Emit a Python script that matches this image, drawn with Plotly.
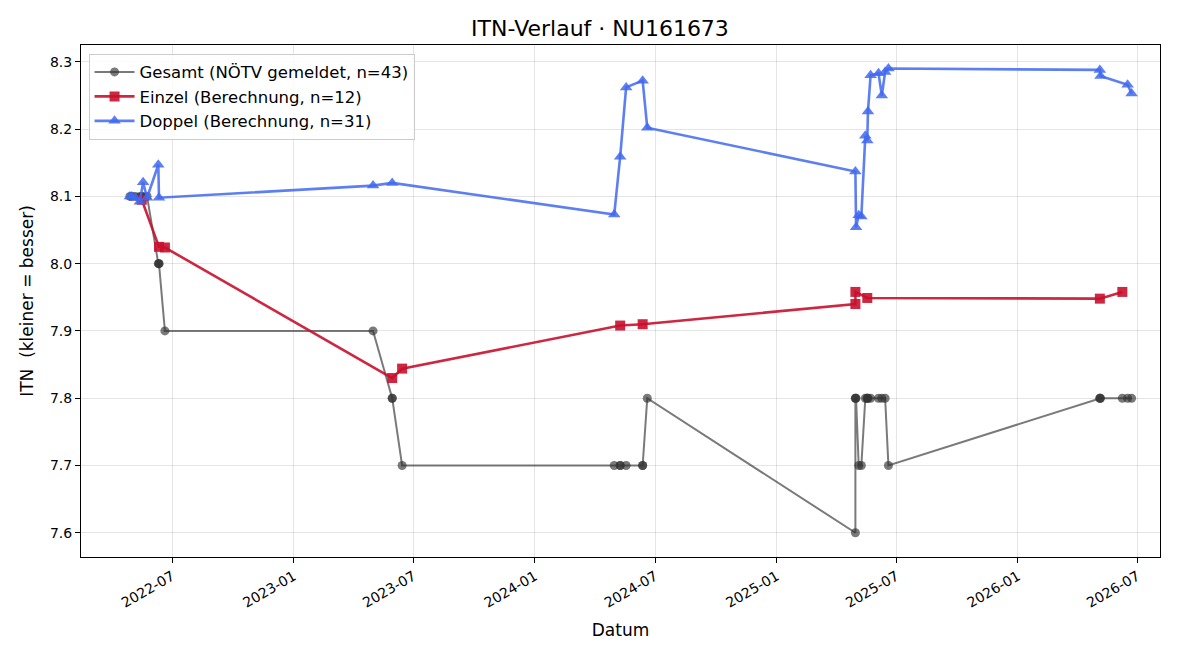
import plotly.graph_objects as go

# ---- data ----
gesamt_dates = [
    "2022-04-28", "2022-05-01", "2022-05-06", "2022-05-13", "2022-05-16", "2022-05-18",
    "2022-05-24", "2022-06-10", "2022-06-11", "2022-06-11", "2022-06-20",
    "2023-05-01", "2023-05-30", "2023-05-30", "2023-06-14",
    "2024-04-30", "2024-05-09", "2024-05-09", "2024-05-18", "2024-06-12", "2024-06-12", "2024-06-19",
    "2025-04-30", "2025-04-30", "2025-04-30", "2025-05-01", "2025-05-05", "2025-05-09",
    "2025-05-15", "2025-05-18", "2025-05-18", "2025-05-19", "2025-05-23", "2025-06-04",
    "2025-06-09", "2025-06-14", "2025-06-19",
    "2026-05-05", "2026-05-05", "2026-05-06", "2026-06-08", "2026-06-16", "2026-06-22",
]
gesamt_itn = [
    8.1, 8.1, 8.1, 8.1, 8.1, 8.1,
    8.1, 8.0, 8.0, 8.0, 7.9,
    7.9, 7.8, 7.8, 7.7,
    7.7, 7.7, 7.7, 7.7, 7.7, 7.7, 7.8,
    7.6, 7.8, 7.8, 7.8, 7.7, 7.7,
    7.8, 7.8, 7.8, 7.8, 7.8, 7.8,
    7.8, 7.8, 7.7,
    7.8, 7.8, 7.8, 7.8, 7.8, 7.8,
]

einzel_dates = [
    "2022-05-16", "2022-06-11", "2022-06-20", "2023-05-30", "2023-06-14",
    "2024-05-09", "2024-06-12", "2025-04-30", "2025-04-30", "2025-05-18",
    "2026-05-05", "2026-06-08",
]
einzel_itn = [
    8.095, 8.025, 8.024, 7.830, 7.844,
    7.908, 7.910, 7.940, 7.958, 7.949,
    7.948, 7.958,
]

doppel_dates = [
    "2022-04-28", "2022-05-01", "2022-05-06", "2022-05-13", "2022-05-18", "2022-05-24",
    "2022-06-10", "2022-06-11",
    "2023-05-01", "2023-05-30",
    "2024-04-30", "2024-05-09", "2024-05-18", "2024-06-12", "2024-06-19",
    "2025-04-30", "2025-05-01", "2025-05-05", "2025-05-09", "2025-05-15", "2025-05-18",
    "2025-05-19", "2025-05-23", "2025-06-04", "2025-06-09", "2025-06-14", "2025-06-19",
    "2026-05-05", "2026-05-06", "2026-06-16", "2026-06-22",
]
doppel_itn = [
    8.100, 8.100, 8.098, 8.092, 8.121, 8.098,
    8.147, 8.098,
    8.116, 8.120,
    8.073, 8.159, 8.262, 8.272, 8.202,
    8.137, 8.054, 8.072, 8.070, 8.190, 8.183,
    8.226, 8.280, 8.283, 8.250, 8.285, 8.290,
    8.288, 8.279, 8.266, 8.253,
]

title_text = "ITN-Verlauf · NU161673"
y_ticks = [7.6, 7.7, 7.8, 7.9, 8.0, 8.1, 8.2, 8.3]

FONT = "DejaVu Sans"

fig = go.Figure()

fig.add_trace(go.Scatter(
    x=gesamt_dates, y=gesamt_itn, mode="lines+markers",
    name=f"Gesamt (NÖTV gemeldet, n={len(gesamt_itn)})",
    line=dict(color="rgba(51,51,51,0.65)", width=2),
    marker=dict(symbol="circle", size=9, color="rgba(51,51,51,0.65)", line=dict(width=0)),
))
fig.add_trace(go.Scatter(
    x=einzel_dates, y=einzel_itn, mode="lines+markers",
    name=f"Einzel (Berechnung, n={len(einzel_itn)})",
    line=dict(color="rgba(200,16,46,0.9)", width=2.6),
    marker=dict(symbol="square", size=10, color="rgba(200,16,46,0.9)", line=dict(width=0)),
))
fig.add_trace(go.Scatter(
    x=doppel_dates, y=doppel_itn, mode="lines+markers",
    name=f"Doppel (Berechnung, n={len(doppel_itn)})",
    line=dict(color="rgba(65,105,240,0.85)", width=2.6),
    marker=dict(symbol="triangle-up", size=11, color="rgba(65,105,240,0.85)", line=dict(width=0)),
))

fig.update_layout(
    width=1200, height=660,
    margin=dict(l=81, r=40, t=45, b=103),
    paper_bgcolor="white", plot_bgcolor="white",
    font=dict(family=FONT, size=14, color="black"),
    title=dict(text=title_text, x=0.5, xanchor="center", y=0.957, yanchor="middle",
               font=dict(family=FONT, size=22, color="black")),
    showlegend=True,
    legend=dict(x=0.007, y=0.983, xanchor="left", yanchor="top",
                bgcolor="rgba(255,255,255,0.85)", bordercolor="#cccccc", borderwidth=1,
                font=dict(family=FONT, size=16.5), tracegroupgap=0, itemwidth=40),
)

fig.update_xaxes(
    type="date",
    range=["2022-02-13", "2026-08-04"],
    tick0="2022-01-01", dtick="M6", tickformat="%Y-%m",
    tickangle=-30,
    showgrid=True, gridcolor="rgba(0,0,0,0.1)", gridwidth=1,
    showline=True, linecolor="black", linewidth=1, mirror=True,
    ticks="outside", ticklen=5, tickcolor="black",
    title=dict(text="Datum", font=dict(family=FONT, size=17), standoff=14),
    zeroline=False,
)
fig.update_yaxes(
    range=[7.564, 8.325],
    tickvals=y_ticks, ticktext=[f"{v:.1f}" for v in y_ticks],
    showgrid=True, gridcolor="rgba(0,0,0,0.1)", gridwidth=1,
    showline=True, linecolor="black", linewidth=1, mirror=True,
    ticks="outside", ticklen=5, tickcolor="black",
    title=dict(text="ITN  (kleiner = besser)", font=dict(family=FONT, size=17), standoff=11),
    zeroline=False,
)

fig.write_html("out.html")
